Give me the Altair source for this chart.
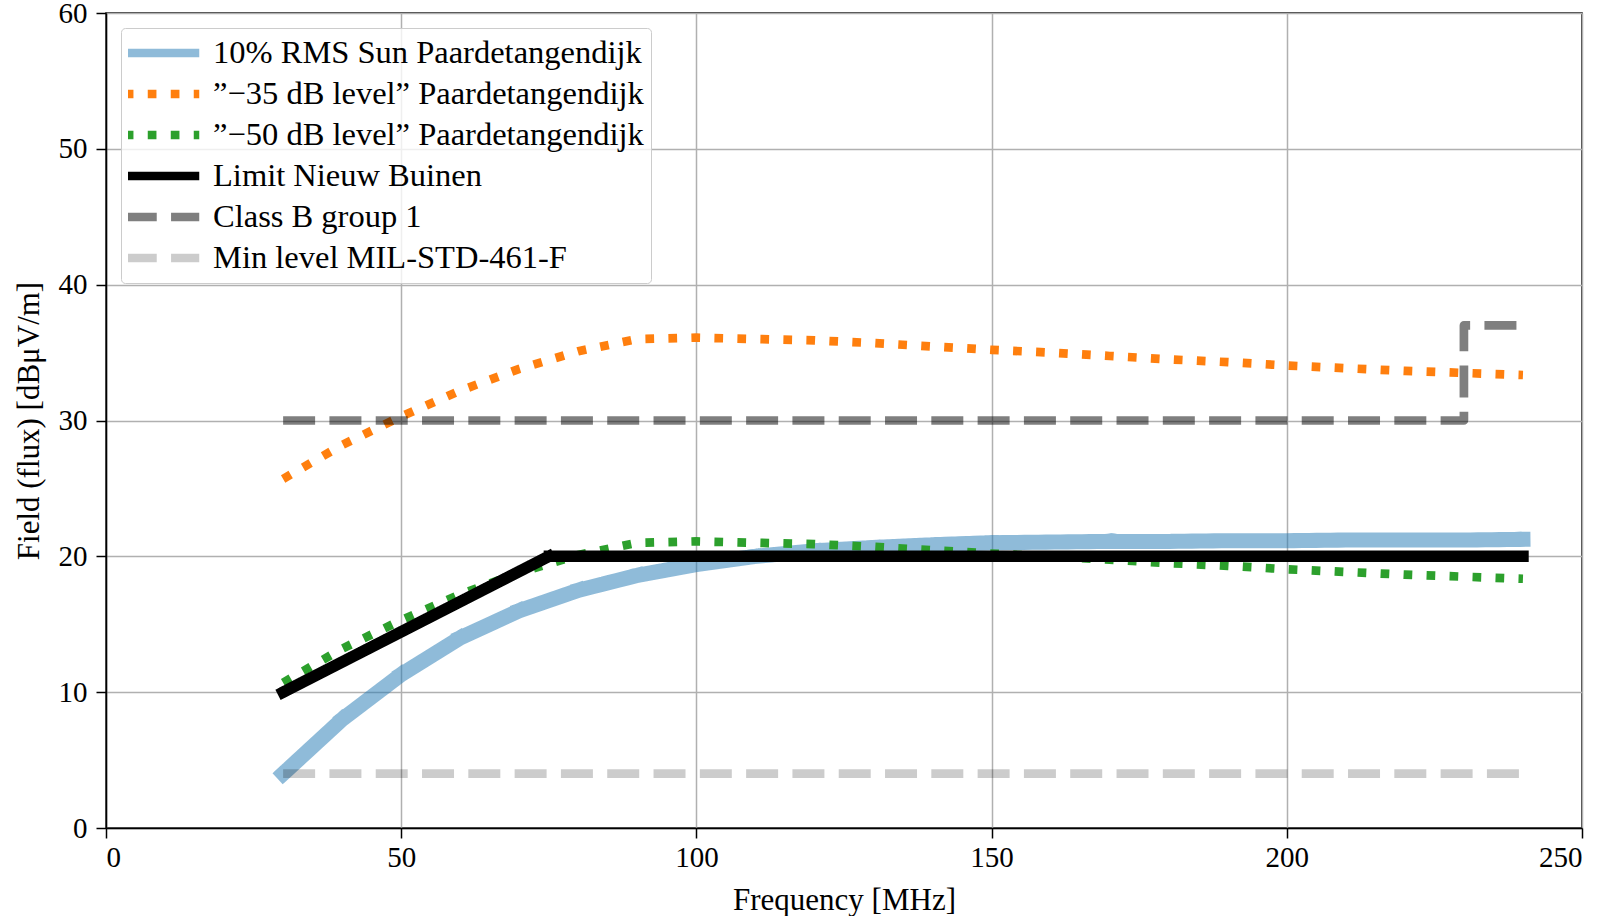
import altair as alt
import pandas as pd

# ---- data ----
freq = [30, 40, 50, 60, 70, 80, 90, 100, 110, 120, 130, 140, 150, 160, 170, 180, 190, 200, 210, 220, 230, 240]
sun = [4.0, 8.0, 11.3, 14.0, 16.0, 17.5, 18.6, 19.4, 20.0, 20.4, 20.65, 20.85, 21.0, 21.05, 21.1, 21.1, 21.15, 21.15, 21.2, 21.2, 21.2, 21.25]
db35 = [25.7, 28.2, 30.3, 32.2, 33.8, 35.1, 36.0, 36.1, 36.0, 35.9, 35.7, 35.45, 35.2, 35.0, 34.75, 34.5, 34.3, 34.05, 33.85, 33.65, 33.5, 33.35]
db50 = [10.7, 13.2, 15.3, 17.2, 18.8, 20.1, 21.0, 21.1, 21.0, 20.9, 20.7, 20.45, 20.2, 20.0, 19.75, 19.5, 19.3, 19.05, 18.85, 18.65, 18.5, 18.35]
limit_freq = [30, 75, 240]
limit_val = [10, 20, 20]
classb_freq = [30, 230, 230, 240]
classb_val = [30, 30, 37, 37]
mil_freq = [30, 240]
mil_val = [4, 4]

names = [
    "10% RMS Sun Paardetangendijk",
    "\u201d\u221235 dB level\u201d Paardetangendijk",
    "\u201d\u221250 dB level\u201d Paardetangendijk",
    "Limit Nieuw Buinen",
    "Class B group 1",
    "Min level MIL-STD-461-F",
]
x_ticks = [0, 50, 100, 150, 200, 250]
y_ticks = [0, 10, 20, 30, 40, 50, 60]

colors = ["rgba(31,119,180,0.5)", "#ff7f0e", "#2ca02c", "#000000", "rgba(0,0,0,0.5)", "rgba(0,0,0,0.2)"]
dashes = [[1, 0], [8.7, 14.3], [8.7, 14.3], [1, 0], [32, 14.3], [32, 14.3]]
widths = [15, 8.7, 8.7, 11.5, 8.7, 8.7]
caps = ["square", "butt", "butt", "square", "butt", "butt"]

series_x = [freq, freq, freq, limit_freq, classb_freq, mil_freq]
series_y = [sun, db35, db50, limit_val, classb_val, mil_val]

rows = []
for name, xs, ys in zip(names, series_x, series_y):
    for i, (a, b) in enumerate(zip(xs, ys)):
        rows.append({"series": name, "f": a, "v": b, "i": i})
df = pd.DataFrame(rows)

FONT = "Liberation Serif"

base = alt.Chart(df).encode(
    x=alt.X("f:Q", scale=alt.Scale(domain=[0, 250], nice=False),
            axis=alt.Axis(values=x_ticks, title="Frequency [MHz]",
                          titleY=72, titleBaseline="middle")),
    y=alt.Y("v:Q", scale=alt.Scale(domain=[0, 60], nice=False),
            axis=alt.Axis(values=y_ticks, title="Field (flux) [dB\u03bcV/m]",
                          titleX=-77, titleY=407.5, titleAngle=270, titleAlign="center",
                          titleBaseline="middle")),
    color=alt.Color("series:N", scale=alt.Scale(domain=names, range=colors),
                    legend=alt.Legend(title=None)),
    strokeDash=alt.StrokeDash("series:N", scale=alt.Scale(domain=names, range=dashes),
                              legend=alt.Legend(title=None)),
    order=alt.Order("i:Q"),
)

layers = []
for name, w, cap in zip(names, widths, caps):
    layers.append(
        base.transform_filter(alt.datum.series == name)
        .mark_line(strokeWidth=w, strokeCap=cap, strokeJoin="round")
    )

chart = alt.layer(*layers).properties(
    width=1476, height=815,
    autosize=alt.AutoSizeParams(type="none"),
    padding={"left": 106, "top": 13, "right": 36, "bottom": 88},
).configure_view(
    stroke="black", strokeWidth=1.5
).configure_axis(
    labelFont=FONT, labelFontSize=29, labelColor="black",
    titleFont=FONT, titleFontSize=31, titleColor="black", titleFontWeight="normal",
    domainColor="black", domainWidth=1.5,
    tickColor="black", tickWidth=1.5, tickSize=10,
    gridColor="#b0b0b0", gridWidth=1.5,
).configure_axisX(
    labelPadding=5,
).configure_axisY(
    labelPadding=9,
).configure_legend(
    orient="none", legendX=15, legendY=15,
    symbolType="stroke", symbolSize=5550, symbolStrokeWidth=8.7,
    labelFont=FONT, labelFontSize=32.5, labelColor="black", labelLimit=0,
    padding=7, rowPadding=5, clipHeight=36,
    labelOffset=9, symbolOffset=-8,
    strokeColor="#cccccc", fillColor="rgba(255,255,255,0.8)", cornerRadius=4,
)

chart.save("out.html", embed_options={"renderer": "svg", "actions": False})
